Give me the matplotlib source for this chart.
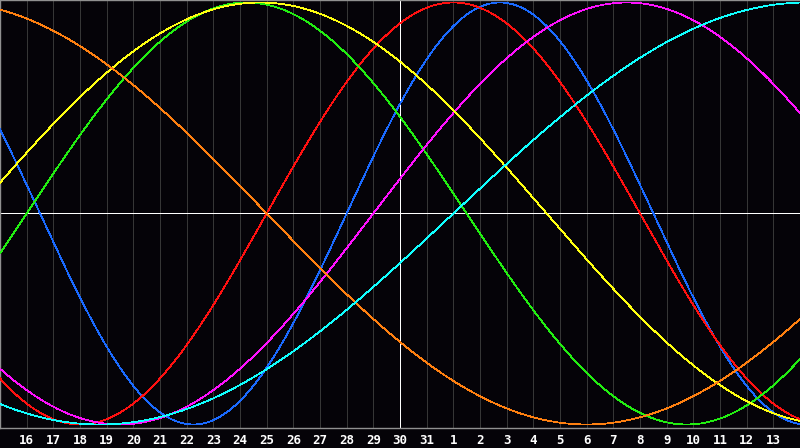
import matplotlib
matplotlib.use("Agg")
import matplotlib.pyplot as plt
import numpy as np

# biorhythm cycles
cycles = ["physical", "emotional", "intellectual", "intuitive", "aesthetic", "awareness", "spiritual"]
periods = [23, 28, 33, 38, 43, 48, 53]
# day (0 = left edge) where each curve crosses zero going up
zero_up = [13, 10, 1, 14, -1, -14, 17]
colors = ["#1a6aff", "#ff1010", "#22ee11", "#ff10ff", "#ffff10", "#ff8010", "#10ffff"]

day_labels = [str(d) for d in range(16, 32)] + [str(d) for d in range(1, 14)]
n_days = 30
today = 15

bg = "#050308"
fig = plt.figure(figsize=(8, 4.48), dpi=100, facecolor=bg)
ax = fig.add_axes([0, 20 / 448, 1, 428 / 448])
ax.set_facecolor(bg)

# vertical day grid
for i in range(1, n_days):
    if i == today:
        continue
    ax.axvline(i, color="#363636", lw=0.55, antialiased=False, zorder=1)
ax.axvline(today, color="white", lw=0.55, antialiased=False, zorder=2)
ax.axhline(0, color="white", lw=0.55, antialiased=False, zorder=2)

x = np.linspace(0, n_days, 1601)
for per, z, c in zip(periods, zero_up, colors):
    y = np.sin(2 * np.pi * (x - z) / per)
    ax.plot(x, y, color=c, lw=0.55, antialiased=False, zorder=3)

ax.set_xlim(0, n_days)
ax.set_ylim(-1.0166, 1.0118)

ax.spines["right"].set_visible(False)
for s in ["left", "top", "bottom"]:
    ax.spines[s].set_color("#909090")
    ax.spines[s].set_linewidth(1.0)

ax.set_yticks([])
ax.set_xticks(range(1, n_days), day_labels)
ax.tick_params(axis="x", length=0, pad=4.5, colors="white")
for lab in ax.get_xticklabels():
    lab.set_fontfamily("DejaVu Sans Mono")
    lab.set_fontweight("bold")
    lab.set_fontsize(9)

fig.savefig("out.png", dpi=100, facecolor=bg)
